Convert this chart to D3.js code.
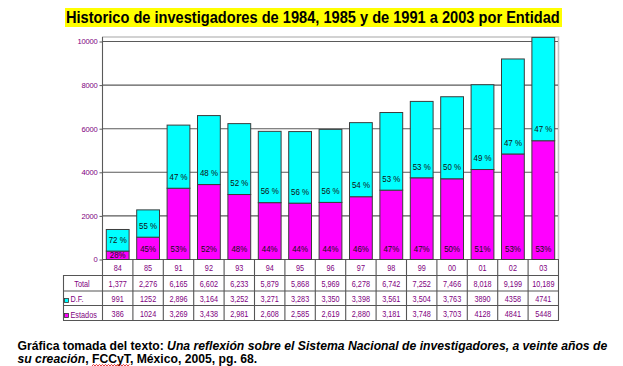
<!DOCTYPE html>
<html>
<head>
<meta charset="utf-8">
<script src="https://cdn.jsdelivr.net/npm/d3@7"></script>
<style>
  body { margin: 0; background: #fff; }
  svg { display: block; font-family: "Liberation Sans", Arial, sans-serif; }
</style>
</head>
<body>
<svg width="623" height="366"></svg>
<script>
// data
var years = ['84', '85', '91', '92', '93', '94', '95', '96', '97', '98', '99', '00', '01', '02', '03'];
var df = [991, 1252, 2896, 3164, 3252, 3271, 3283, 3350, 3398, 3561, 3504, 3763, 3890, 4358, 4741];
var estados = [386, 1024, 3269, 3438, 2981, 2608, 2585, 2619, 2880, 3181, 3748, 3703, 4128, 4841, 5448];
var dfPct = [72, 55, 47, 48, 52, 56, 56, 56, 54, 53, 53, 50, 49, 47, 47];
var estadosPct = [28, 45, 53, 52, 48, 44, 44, 44, 46, 47, 47, 50, 51, 53, 53];
var totalLabels = ['1,377', '2,276', '6,165', '6,602', '6,233', '5,879', '5,868', '5,969', '6,278', '6,742', '7,252', '7,466', '8,018', '9,199', '10,189'];
var dfLabels = ['991', '1252', '2,896', '3,164', '3,252', '3,271', '3,283', '3,350', '3,398', '3,561', '3,504', '3,763', '3890', '4358', '4741'];
var estadosLabels = ['386', '1024', '3,269', '3,438', '2,981', '2,608', '2,585', '2,619', '2,880', '3,181', '3,748', '3,703', '4128', '4841', '5448'];
var yTicks = [0, 2000, 4000, 6000, 8000, 10000];

var title = 'Historico de investigadores de 1984, 1985 y de 1991 a 2003 por Entidad';

var svg = d3.select('svg');
var plot = {left: 102, right: 558, top: 41, bottom: 259};
var purple = '#800080';
var cyan = '#00ffff', magenta = '#ff00ff';

var x = d3.scaleBand()
  .domain(years)
  .range([plot.left, plot.right])
  .paddingInner(0.25)
  .paddingOuter(0.125);

var y = d3.scaleLinear()
  .domain([0, 10000])
  .range([plot.bottom, plot.top]);

// small helper: text squeezed horizontally like the original image
function txt(g, s, px, py, size, sx, anchor, fill) {
  return g.append('text')
    .attr('transform', 'translate(' + px + ',' + py + ') scale(' + sx + ',1)')
    .attr('text-anchor', anchor)
    .attr('dominant-baseline', 'central')
    .attr('font-size', size)
    .attr('fill', fill)
    .text(s);
}

// title with yellow band
var tg = svg.append('g');
var tRect = tg.append('rect').attr('fill', '#ffff00');
var tText = tg.append('text')
  .attr('font-size', 16.5)
  .attr('font-weight', 'bold')
  .text(title);
var tLen = tText.node().getComputedTextLength();
var tsx = 494 / tLen;
tText.attr('transform', 'translate(66,23) scale(' + tsx + ',1)');
tRect.attr('x', 65).attr('y', 8).attr('width', 497).attr('height', 19);

// plot frame (light)
svg.append('path')
  .attr('d', 'M' + plot.left + ',37H' + (plot.right + 0.5) + 'V' + plot.bottom)
  .attr('fill', 'none')
  .attr('stroke', '#c4c4c4')
  .attr('stroke-width', 1.6);

// gridlines
svg.append('g').selectAll('line')
  .data(yTicks)
  .enter().append('line')
  .attr('x1', plot.left).attr('x2', plot.right)
  .attr('y1', d => y(d) + 0.5).attr('y2', d => y(d) + 0.5)
  .attr('stroke', '#5a5a5a')
  .attr('stroke-width', 1.1);

// left axis
var yAxis = d3.axisLeft(y).tickValues(yTicks).tickSize(3).tickFormat(d3.format('d'));
var ya = svg.append('g')
  .attr('transform', 'translate(' + (plot.left + 0.5) + ',0.5)')
  .call(yAxis);
ya.select('.domain').remove();
ya.selectAll('line').attr('stroke', '#5a5a5a');
ya.selectAll('text')
  .attr('fill', purple)
  .attr('font-size', 7.6)
  .attr('x', -5)
  .attr('letter-spacing', -0.2)
  .attr('font-family', '"Liberation Sans", Arial, sans-serif');
svg.append('line')
  .attr('x1', plot.left + 0.5).attr('x2', plot.left + 0.5)
  .attr('y1', 37).attr('y2', 320)
  .attr('stroke', '#5a5a5a').attr('stroke-width', 1.1);

// stacked bars
var rows = years.map((yr, i) => ({year: yr, estados: estados[i], df: df[i]}));
var stack = d3.stack().keys(['estados', 'df']);
var series = stack(rows);
var colors = {estados: magenta, df: cyan};

svg.append('g').selectAll('g')
  .data(series)
  .enter().append('g')
  .attr('fill', d => colors[d.key])
  .selectAll('rect')
  .data(d => d)
  .enter().append('rect')
  .attr('x', d => x(d.data.year) + 0.5)
  .attr('y', d => y(d[1]) + 0.5)
  .attr('width', x.bandwidth())
  .attr('height', d => y(d[0]) - y(d[1]))
  .attr('stroke', '#3c3c3c')
  .attr('stroke-width', 1);

// percent labels
var pg = svg.append('g');
years.forEach((yr, i) => {
  var cx = x(yr) + x.bandwidth() / 2 + 0.5;
  var yb = y(estados[i]);
  txt(pg, dfPct[i] + ' %', cx, yb - 11, 9.2, 0.86, 'middle', '#111');
  var ey = Math.max((yb + y(0)) / 2, y(0) - 10);
  txt(pg, estadosPct[i] + '%', cx, ey, 9.2, 0.86, 'middle', '#111');
});

// data table
var step = x.step();
var tab = svg.append('g');
var rowY = [275, 290.5, 305, 320];
var lineColor = '#555';
d3.range(1, years.length + 1).forEach(k => {
  var xx = plot.left + k * step + 0.5;
  tab.append('line')
    .attr('x1', xx).attr('x2', xx)
    .attr('y1', plot.bottom).attr('y2', 320)
    .attr('stroke', lineColor).attr('stroke-width', 1.1);
});
rowY.forEach(yy => {
  tab.append('line')
    .attr('x1', 63).attr('x2', plot.right + 1)
    .attr('y1', yy + 0.5).attr('y2', yy + 0.5)
    .attr('stroke', lineColor).attr('stroke-width', 1.1);
});
tab.append('line')
  .attr('x1', 63.5).attr('x2', 63.5)
  .attr('y1', 275).attr('y2', 320.5)
  .attr('stroke', lineColor).attr('stroke-width', 1.1);

var cellSize = 9.6, cellSx = 0.76;
years.forEach((yr, i) => {
  var cx = x(yr) + x.bandwidth() / 2 + 0.5;
  txt(tab, yr, cx, 267.5, cellSize, cellSx, 'middle', purple);
  txt(tab, totalLabels[i], cx, 284, cellSize, cellSx, 'middle', purple);
  txt(tab, dfLabels[i], cx, 298.5, cellSize, cellSx, 'middle', purple);
  txt(tab, estadosLabels[i], cx, 314, cellSize, cellSx, 'middle', purple);
});

// row headers with legend keys
txt(tab, 'Total', 82, 284, cellSize, cellSx, 'middle', purple);
tab.append('rect').attr('x', 64.5).attr('y', 298.5).attr('width', 4).attr('height', 4)
  .attr('fill', cyan).attr('stroke', '#333').attr('stroke-width', 0.8);
txt(tab, 'D.F.', 70.5, 299, cellSize, cellSx, 'start', purple);
tab.append('rect').attr('x', 64.5).attr('y', 313.5).attr('width', 4).attr('height', 4)
  .attr('fill', magenta).attr('stroke', '#333').attr('stroke-width', 0.8);
txt(tab, 'Estados', 70.5, 314.5, cellSize, cellSx, 'start', purple);

// caption
var cap = svg.append('g').attr('font-size', 12.2).attr('font-weight', 'bold').attr('fill', '#000');
var l1 = cap.append('text');
l1.append('tspan').text('Gráfica tomada del texto: ');
l1.append('tspan').attr('font-style', 'italic')
  .text('Una reflexión sobre el Sistema Nacional de investigadores, a veinte años de');
var capLen = l1.node().getComputedTextLength();
var csx = 589.5 / capLen;
l1.attr('transform', 'translate(17.5,350.2) scale(' + csx + ',1)');

var l2 = cap.append('text').attr('transform', 'translate(17.5,363.4) scale(' + csx + ',1)');
l2.append('tspan').attr('font-style', 'italic').text('su creación');
l2.append('tspan').text(', FCCyT, México, 2005, pg. 68.');

// red spell-check squiggle under FCCyT
var start = 'su creación, '.length;
var x1 = 17.5 + l2.node().getStartPositionOfChar(start).x * csx;
var x2 = 17.5 + l2.node().getEndPositionOfChar(start + 4).x * csx;
var pts = d3.range(x1, x2 + 0.1, 1.5).map((px, k) => [px, 365.2 + (k % 2 ? -0.7 : 0.7)]);
svg.append('path')
  .attr('d', d3.line()(pts))
  .attr('fill', 'none')
  .attr('stroke', '#e00000')
  .attr('stroke-width', 0.8);
</script>
</body>
</html>
